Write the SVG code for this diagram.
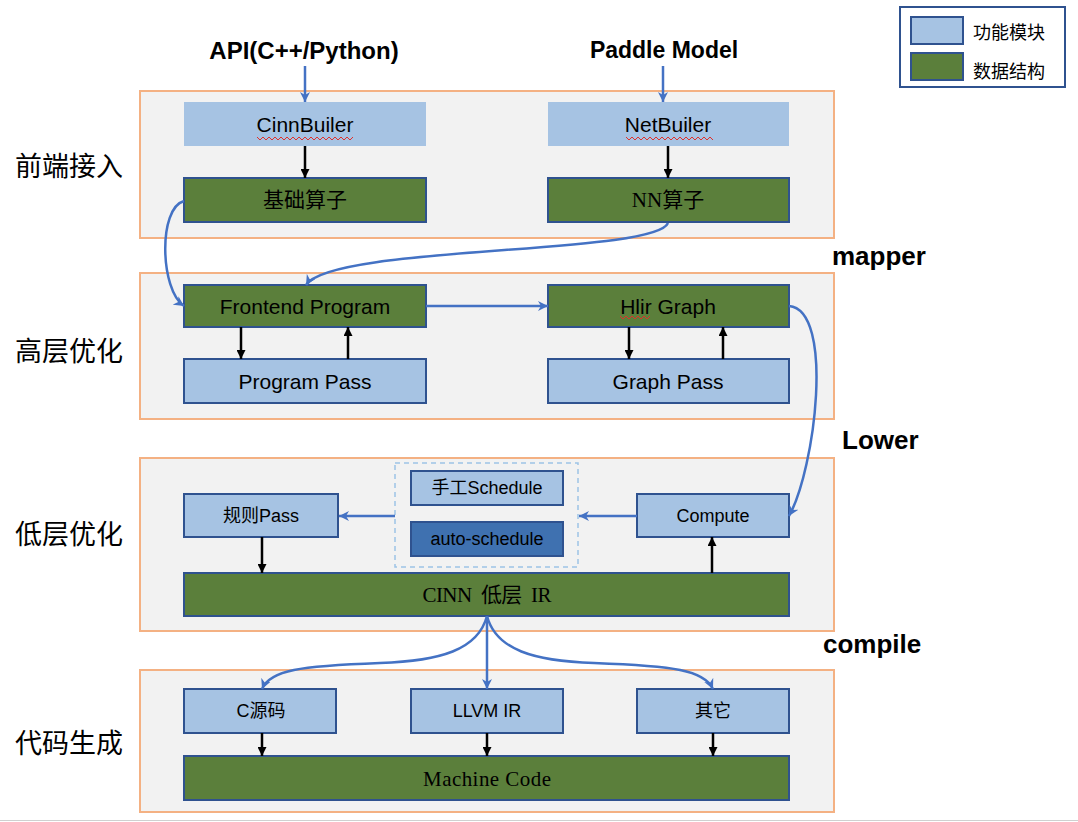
<svg xmlns="http://www.w3.org/2000/svg" width="1078" height="822" viewBox="0 0 1078 822">
<style>
.layer{fill:#F2F2F2;stroke:#F4B183;stroke-width:2}
.fn{fill:#A6C3E3;stroke:#2F528F;stroke-width:2}
.fn0{fill:#A6C3E3}
.ds{fill:#5B7F3B;stroke:#2F528F;stroke-width:2}
.auto{fill:#3F71B0;stroke:#2F528F;stroke-width:2}
.t{font-family:"Liberation Sans","Noto Sans CJK SC",sans-serif;fill:#000;text-anchor:middle;dominant-baseline:central}
.s{font-family:"Liberation Serif","Noto Sans CJK SC",serif;fill:#000;text-anchor:middle;dominant-baseline:central}
.b{font-family:"Liberation Sans",sans-serif;font-weight:bold;fill:#000;dominant-baseline:central}
.side{font-family:"Noto Sans CJK SC",sans-serif;font-size:27px;fill:#000;dominant-baseline:central}
.lg{font-family:"Noto Sans CJK SC",sans-serif;font-size:18px;fill:#000;dominant-baseline:central}
.blk{stroke:#000;stroke-width:2.5;fill:none;marker-end:url(#ab)}
.blu{stroke:#4472C4;stroke-width:2.5;fill:none;marker-end:url(#au)}
.sq{stroke:#E0302A;stroke-width:1;fill:none}
</style>
<defs>
<marker id="ab" viewBox="0 0 10 10" refX="10" refY="5" markerWidth="9" markerHeight="9" orient="auto" markerUnits="userSpaceOnUse"><path d="M0,0 L10,5 L0,10 z" fill="#000"/></marker>
<marker id="au" viewBox="0 0 10 10" refX="10" refY="5" markerWidth="10" markerHeight="10" orient="auto" markerUnits="userSpaceOnUse"><path d="M0,0 L10,5 L0,10 L3,5 z" fill="#4472C4"/></marker>
</defs>
<rect x="0" y="0" width="1078" height="822" fill="#fff"/>
<line x1="0" y1="820.5" x2="1078" y2="820.5" stroke="#d0d0d0" stroke-width="1"/>

<g id="layers">
<rect class="layer" x="140" y="91" width="694" height="147"/>
<rect class="layer" x="140" y="273" width="694" height="146"/>
<rect class="layer" x="140" y="458" width="694" height="173"/>
<rect class="layer" x="140" y="670" width="694" height="142"/>
</g>

<g id="side-labels">
<text class="side" x="15" y="164">前端接入</text>
<text class="side" x="15" y="349">高层优化</text>
<text class="side" x="15" y="532">低层优化</text>
<text class="side" x="15" y="741">代码生成</text>
</g>

<g id="top-labels">
<text class="b" x="304" y="50" font-size="24" text-anchor="middle">API(C++/Python)</text>
<text class="b" x="664" y="50" font-size="23" text-anchor="middle">Paddle Model</text>
<text class="b" x="832" y="256" font-size="26">mapper</text>
<text class="b" x="842" y="440" font-size="26">Lower</text>
<text class="b" x="823" y="644" font-size="26">compile</text>
</g>

<g id="legend">
<rect x="900" y="7" width="165" height="80" fill="#fff" stroke="#2F528F" stroke-width="2"/>
<rect class="fn" x="911" y="17" width="52" height="27"/>
<text class="lg" x="973" y="31">功能模块</text>
<rect class="ds" x="911" y="53" width="52" height="27"/>
<text class="lg" x="973" y="70">数据结构</text>
</g>

<g id="n-cinnbuiler"><rect class="fn0" x="184" y="102" width="242" height="44"/><text class="t" x="305" y="124" font-size="21">CinnBuiler</text>
<path class="sq" d="M257,137 l3,3 l3,-3 l3,3 l3,-3 l3,3 l3,-3 l3,3 l3,-3 l3,3 l3,-3 l3,3 l3,-3 l3,3 l3,-3 l3,3 l3,-3 l3,3 l3,-3 l3,3 l3,-3 l3,3 l3,-3 l3,3 l3,-3 l3,3 l3,-3 l3,3 l3,-3 l3,3 l3,-3 l3,3 l3,-3"/></g>
<g id="n-netbuiler"><rect class="fn0" x="548" y="102" width="241" height="44"/><text class="t" x="668" y="124" font-size="21">NetBuiler</text>
<path class="sq" d="M626,137 l3,3 l3,-3 l3,3 l3,-3 l3,3 l3,-3 l3,3 l3,-3 l3,3 l3,-3 l3,3 l3,-3 l3,3 l3,-3 l3,3 l3,-3 l3,3 l3,-3 l3,3 l3,-3 l3,3 l3,-3 l3,3 l3,-3 l3,3 l3,-3 l3,3 l3,-3 l3,3"/></g>
<g id="n-basic"><rect class="ds" x="184" y="178" width="242" height="44"/><text class="s" x="305" y="200" font-size="21">基础算子</text></g>
<g id="n-nn"><rect class="ds" x="548" y="178" width="241" height="44"/><text class="s" x="668" y="200" font-size="21">NN算子</text></g>

<g id="n-frontend"><rect class="ds" x="184" y="285" width="242" height="42"/><text class="t" x="305" y="306" font-size="21">Frontend Program</text></g>
<g id="n-hlir"><rect class="ds" x="548" y="285" width="241" height="42"/><text class="t" x="668" y="306" font-size="21">Hlir Graph</text>
<path class="sq" d="M620,316 l3,3 l3,-3 l3,3 l3,-3 l3,3 l3,-3 l3,3 l3,-3 l3,3 l3,-3"/></g>
<g id="n-programpass"><rect class="fn" x="184" y="359" width="242" height="44"/><text class="t" x="305" y="381" font-size="21">Program Pass</text></g>
<g id="n-graphpass"><rect class="fn" x="548" y="359" width="241" height="44"/><text class="t" x="668" y="381" font-size="21">Graph Pass</text></g>

<g id="n-schedule">
<rect x="395" y="463" width="183" height="104" fill="none" stroke="#9DC3E6" stroke-width="1.5" stroke-dasharray="5,4"/>
<rect class="fn" x="411" y="471" width="152" height="34"/><text class="t" x="487" y="488" font-size="18">手工Schedule</text>
<rect class="auto" x="411" y="522" width="152" height="34"/><text class="t" x="487" y="539" font-size="18">auto-schedule</text>
</g>
<g id="n-rulepass"><rect class="fn" x="184" y="494" width="154" height="43"/><text class="t" x="261" y="516" font-size="18">规则Pass</text></g>
<g id="n-compute"><rect class="fn" x="637" y="494" width="152" height="43"/><text class="t" x="713" y="516" font-size="18">Compute</text></g>
<g id="n-cinnir"><rect class="ds" x="184" y="573" width="605" height="43"/><text class="s" x="487" y="595" font-size="21" textLength="129" lengthAdjust="spacing" xml:space="preserve">CINN  低层  IR</text></g>

<g id="n-csrc"><rect class="fn" x="184" y="689" width="152" height="44"/><text class="t" x="261" y="711" font-size="18">C源码</text></g>
<g id="n-llvm"><rect class="fn" x="411" y="689" width="152" height="44"/><text class="t" x="487" y="711" font-size="18">LLVM IR</text></g>
<g id="n-other"><rect class="fn" x="637" y="689" width="152" height="44"/><text class="t" x="713" y="711" font-size="18">其它</text></g>
<g id="n-machine"><rect class="ds" x="184" y="756" width="605" height="44"/><text class="s" x="487" y="779" font-size="21" textLength="128" lengthAdjust="spacing">Machine Code</text></g>

<g id="connectors">
<line class="blu" x1="305" y1="66" x2="305" y2="102"/>
<line class="blu" x1="663" y1="66" x2="663" y2="102"/>
<line class="blk" x1="305" y1="146" x2="305" y2="178"/>
<line class="blk" x1="668" y1="146" x2="668" y2="178"/>
<path class="blu" d="M184,201 C158,208 160,290 184,306"/>
<path class="blu" d="M668,223 C655,255 330,245 306,285"/>
<line class="blu" x1="426" y1="306" x2="548" y2="306"/>
<line class="blk" x1="241" y1="327" x2="241" y2="359"/>
<line class="blk" x1="348" y1="359" x2="348" y2="327"/>
<line class="blk" x1="629" y1="327" x2="629" y2="359"/>
<line class="blk" x1="723" y1="359" x2="723" y2="327"/>
<path class="blu" d="M789,306 C835,310 815,470 789,516"/>
<line class="blu" x1="637" y1="516" x2="579" y2="516"/>
<line class="blu" x1="395" y1="516" x2="339" y2="516"/>
<line class="blk" x1="262" y1="537" x2="262" y2="573"/>
<line class="blk" x1="712" y1="573" x2="712" y2="537"/>
<path class="blu" d="M487,616 C478,650 440,661 380,663 C300,666 270,670 262,689"/>
<line class="blu" x1="487" y1="616" x2="487" y2="689"/>
<path class="blu" d="M487,616 C496,650 534,661 594,663 C674,666 704,670 713,689"/>
<line class="blk" x1="262" y1="733" x2="262" y2="756"/>
<line class="blk" x1="487" y1="733" x2="487" y2="756"/>
<line class="blk" x1="713" y1="733" x2="713" y2="756"/>
</g>
</svg>
